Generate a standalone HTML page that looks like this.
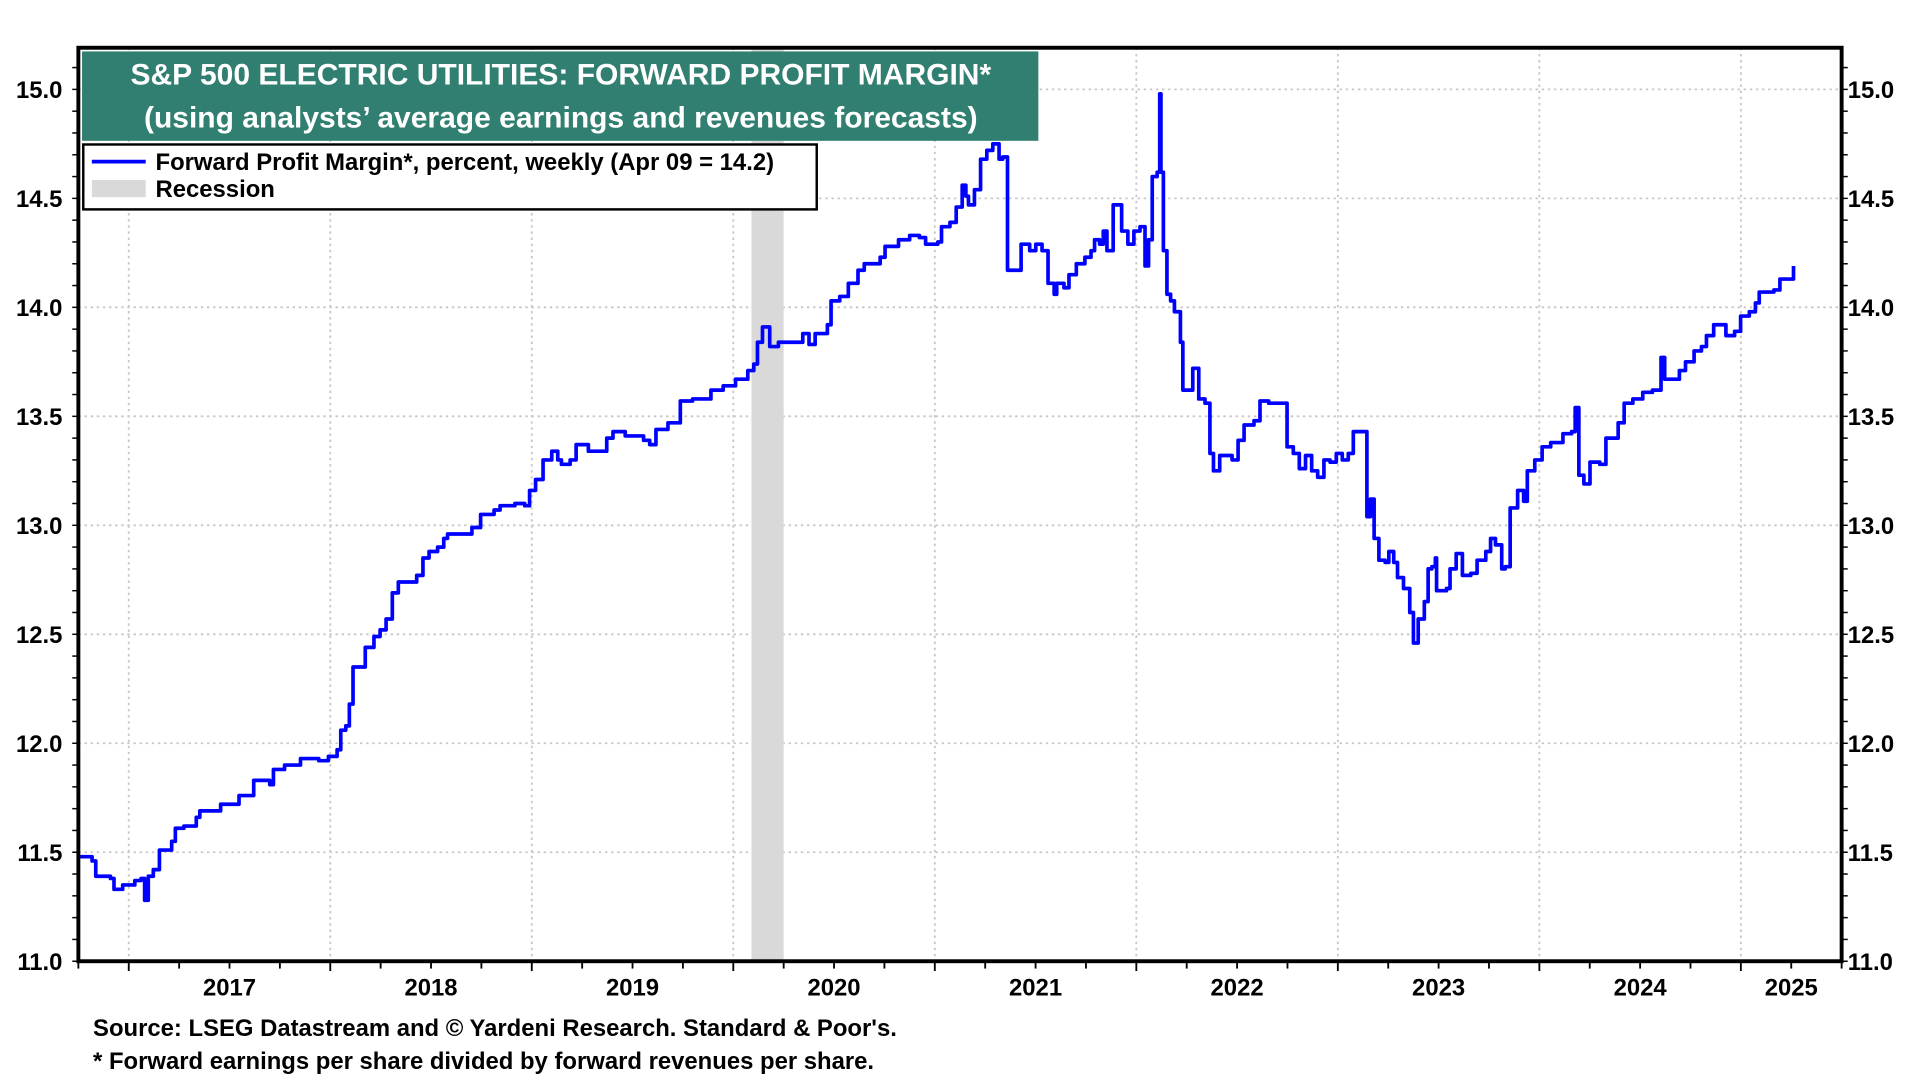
<!DOCTYPE html>
<html><head><meta charset="utf-8"><style>
html,body{margin:0;padding:0;background:#fff;}
svg{display:block;}
text{font-family:"Liberation Sans",Arial,sans-serif;font-weight:bold;}
</style></head>
<body>
<svg id="chart" width="1920" height="1080" viewBox="0 0 1568 882" xmlns="http://www.w3.org/2000/svg">
<g id="grid"></g>
<rect id="recession" fill="#d9d9d9"></rect>
<path id="line" fill="none" stroke="#0000ff" stroke-width="3" stroke-linejoin="round"></path>
<g id="axes"></g>
<rect x="64" y="39" width="1440" height="746" fill="none" stroke="#000" stroke-width="3.2"/>
<g>
<rect x="67" y="42" width="781" height="73" fill="#317f70"/>
<text x="458" y="69" fill="#fff" font-size="24.5" text-anchor="middle">S&amp;P 500 ELECTRIC UTILITIES: FORWARD PROFIT MARGIN*</text>
<text x="458" y="104" fill="#fff" font-size="24.5" text-anchor="middle">(using analysts’ average earnings and revenues forecasts)</text>
</g>
<g>
<rect x="68" y="118" width="599" height="53" fill="#fff" stroke="#000" stroke-width="2"/>
<line x1="75" y1="132" x2="119" y2="132" stroke="#0000ff" stroke-width="3"/>
<text x="127" y="139" font-size="19.5">Forward Profit Margin*, percent, weekly (Apr 09 = 14.2)</text>
<rect x="75" y="147" width="44" height="14" fill="#d9d9d9"/>
<text x="127" y="161" font-size="19.5">Recession</text>
</g>
<text x="76" y="846" font-size="19.5">Source: LSEG Datastream and © Yardeni Research. Standard &amp; Poor's.</text>
<text x="76" y="873" font-size="19.5">* Forward earnings per share divided by forward revenues per share.</text>
</svg>
<script>
const years = [2016.751,2016.818,2016.836,2016.909,2016.927,2016.970,2017.030,2017.061,2017.079,2017.097,2017.122,2017.152,2017.213,2017.231,2017.274,2017.335,2017.353,2017.426,2017.456,2017.547,2017.620,2017.700,2017.718,2017.773,2017.852,2017.943,2017.991,2018.034,2018.052,2018.077,2018.095,2018.113,2018.156,2018.174,2018.217,2018.247,2018.277,2018.308,2018.338,2018.399,2018.429,2018.460,2018.490,2018.533,2018.563,2018.582,2018.673,2018.703,2018.746,2018.813,2018.843,2018.916,2018.965,2018.989,2019.019,2019.056,2019.099,2019.129,2019.147,2019.190,2019.220,2019.281,2019.354,2019.372,2019.403,2019.464,2019.524,2019.555,2019.585,2019.616,2019.676,2019.719,2019.737,2019.798,2019.859,2019.889,2019.950,2020.011,2020.072,2020.102,2020.120,2020.145,2020.163,2020.181,2020.224,2020.285,2020.345,2020.376,2020.406,2020.467,2020.485,2020.528,2020.571,2020.619,2020.650,2020.729,2020.753,2020.820,2020.875,2020.923,2020.954,2021.015,2021.033,2021.075,2021.106,2021.136,2021.154,2021.167,2021.197,2021.227,2021.258,2021.288,2021.319,2021.337,2021.361,2021.410,2021.428,2021.471,2021.501,2021.532,2021.562,2021.592,2021.605,2021.641,2021.666,2021.702,2021.745,2021.775,2021.793,2021.818,2021.836,2021.854,2021.885,2021.909,2021.927,2021.958,2021.988,2022.018,2022.043,2022.061,2022.079,2022.103,2022.116,2022.122,2022.134,2022.152,2022.170,2022.189,2022.219,2022.231,2022.262,2022.280,2022.310,2022.341,2022.365,2022.383,2022.414,2022.475,2022.505,2022.535,2022.584,2022.614,2022.657,2022.736,2022.748,2022.779,2022.809,2022.840,2022.870,2022.900,2022.931,2022.961,2022.992,2023.022,2023.052,2023.077,2023.126,2023.144,2023.162,2023.180,2023.204,2023.235,2023.253,2023.277,2023.296,2023.326,2023.357,2023.375,2023.399,2023.429,2023.448,2023.466,2023.484,2023.490,2023.539,2023.557,2023.587,2023.618,2023.660,2023.691,2023.734,2023.758,2023.782,2023.813,2023.831,2023.855,2023.892,2023.922,2023.940,2023.977,2024.014,2024.056,2024.117,2024.160,2024.178,2024.196,2024.221,2024.251,2024.300,2024.330,2024.391,2024.421,2024.464,2024.513,2024.561,2024.604,2024.622,2024.664,2024.695,2024.725,2024.768,2024.804,2024.829,2024.865,2024.896,2024.926,2024.969,2024.999,2025.042,2025.072,2025.091,2025.121,2025.164,2025.194,2025.231,2025.261];
const margins = [11.48,11.46,11.39,11.38,11.33,11.35,11.37,11.38,11.28,11.39,11.42,11.51,11.55,11.61,11.62,11.66,11.69,11.69,11.72,11.76,11.83,11.81,11.88,11.90,11.93,11.92,11.94,11.97,12.06,12.08,12.18,12.35,12.35,12.44,12.49,12.52,12.57,12.69,12.74,12.74,12.77,12.85,12.88,12.90,12.94,12.96,12.96,12.99,13.05,13.07,13.09,13.10,13.09,13.16,13.21,13.30,13.34,13.30,13.28,13.30,13.37,13.34,13.34,13.40,13.43,13.41,13.41,13.39,13.37,13.44,13.47,13.47,13.57,13.58,13.58,13.62,13.64,13.67,13.71,13.74,13.84,13.91,13.91,13.82,13.84,13.84,13.88,13.83,13.88,13.92,14.03,14.05,14.11,14.17,14.20,14.23,14.28,14.31,14.33,14.32,14.29,14.30,14.37,14.39,14.46,14.56,14.51,14.47,14.54,14.68,14.72,14.75,14.68,14.69,14.17,14.17,14.29,14.26,14.29,14.26,14.11,14.06,14.11,14.09,14.15,14.20,14.23,14.26,14.31,14.29,14.35,14.26,14.47,14.47,14.35,14.29,14.35,14.37,14.19,14.31,14.60,14.62,14.98,14.62,14.26,14.06,14.03,13.98,13.84,13.62,13.62,13.72,13.58,13.56,13.33,13.25,13.32,13.30,13.39,13.46,13.48,13.57,13.56,13.56,13.36,13.33,13.26,13.32,13.25,13.22,13.30,13.29,13.33,13.30,13.33,13.43,13.43,13.04,13.12,12.94,12.84,12.83,12.88,12.83,12.76,12.71,12.60,12.46,12.57,12.65,12.80,12.81,12.85,12.70,12.71,12.80,12.87,12.77,12.78,12.84,12.88,12.94,12.91,12.80,12.81,13.08,13.16,13.11,13.25,13.30,13.36,13.38,13.42,13.43,13.54,13.23,13.19,13.29,13.28,13.40,13.47,13.56,13.58,13.61,13.62,13.77,13.67,13.67,13.71,13.75,13.80,13.82,13.87,13.92,13.92,13.87,13.89,13.96,13.98,14.02,14.07,14.07,14.08,14.13,14.13,14.19];
const yTicks = [11.0,11.5,12.0,12.5,13.0,13.5,14.0,14.5,15.0];
const yearLabels = [2017,2018,2019,2020,2021,2022,2023,2024,2025];
const recessionSpan = [2020.09,2020.25];

const L=64,R=1504,T=39,B=785;
const x0=2016.75,x1=2025.5;
const yMaxPlot=15;
function X(t){return L+(t-x0)/(x1-x0)*(R-L);}
function Y(v){return 785-(v-11)/(yMaxPlot-11)*(785-73);}
const NS="http://www.w3.org/2000/svg";
function mk(tag,attrs,parent){const e=document.createElementNS(NS,tag);for(const k in attrs)e.setAttribute(k,attrs[k]);parent.appendChild(e);return e;}
const grid=document.getElementById('grid'),axes=document.getElementById('axes');
yTicks.forEach(v=>{
  if(v>11&&v<15.2){const g=mk('line',{x1:L,x2:R,y1:Y(v),y2:Y(v),stroke:'#c8c8c8','stroke-width':1.5,'stroke-dasharray':'2,3'},grid);
  
  }
  const t1=mk('text',{x:L-13,y:Y(v)+7,'font-size':19.5,'text-anchor':'end'},axes);t1.textContent=v.toFixed(1);
  
  
  const t2=mk('text',{x:R+5,y:Y(v)+7,'font-size':19.5,'text-anchor':'start'},axes);t2.textContent=v.toFixed(1);
  
  
});
for(let v=11;v<=15.15;v+=0.1){
  mk('line',{x1:L-5,x2:L,y1:Y(v),y2:Y(v),stroke:'#000','stroke-width':1.2},axes);
  mk('line',{x1:R,x2:R+5,y1:Y(v),y2:Y(v),stroke:'#000','stroke-width':1.2},axes);
}
for(let q=Math.ceil(x0*4);q<=x1*4;q++){const t=q/4;
  mk('line',{x1:X(t),x2:X(t),y1:B,y2:B+(q%4===0?8:6),stroke:'#000','stroke-width':1.5},axes);}
yearLabels.forEach(yr=>{
  const g=mk('line',{x1:X(yr),x2:X(yr),y1:T,y2:B,stroke:'#c8c8c8','stroke-width':1.5,'stroke-dasharray':'2,3'},grid);
  
  
  const t=mk('text',{x:X(Math.min(yr+0.5,2025.25)),y:813,'font-size':19.5,'text-anchor':'middle'},axes);t.textContent=yr;
  
  
});
const rc=document.getElementById('recession');
rc.setAttribute('x',X(recessionSpan[0]));rc.setAttribute('y',T);
rc.setAttribute('width',X(recessionSpan[1])-X(recessionSpan[0]));rc.setAttribute('height',B-T);
let d='M'+X(years[0]).toFixed(1)+','+Y(margins[0]).toFixed(1);
for(let i=1;i<years.length;i++){d+=' H'+X(years[i]).toFixed(1)+' V'+Y(margins[i]).toFixed(1);}
document.getElementById('line').setAttribute('d',d);
</script>
</body></html>
